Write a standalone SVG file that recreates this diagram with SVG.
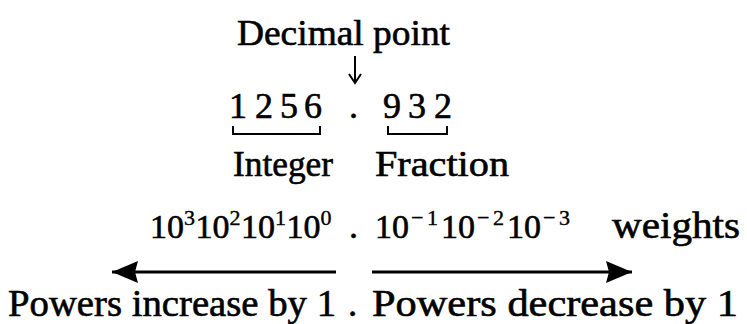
<svg xmlns="http://www.w3.org/2000/svg" width="747" height="324" viewBox="0 0 747 324">
<defs>
<style>
.t{font-size:36px}
.b{font-size:37px}
.d{font-size:36px}
.w{font-size:34px}
.s{font-size:22px}
.ln{stroke:#000;stroke-width:3;fill:none}
.br{stroke:#000;stroke-width:2;fill:none}
</style>
<marker id="ah" viewBox="0 0 26 22" refX="26" refY="11" markerWidth="26" markerHeight="22" markerUnits="userSpaceOnUse" orient="auto">
<path d="M0,0 L26,11 L0,22 L3,11 z" fill="#000"/>
</marker>
</defs>
<rect width="747" height="324" fill="#fff"/>
<g id="decimal-point-label">
<text font-family="Liberation Serif" stroke="#000" stroke-width="0.6" class="t" x="237" y="45" textLength="213" lengthAdjust="spacingAndGlyphs">Decimal point</text>
</g>
<g id="number">
<text font-family="Liberation Serif" stroke="#000" stroke-width="0.6" class="d" x="229 255 280 304" y="118">1256</text>
<text font-family="Liberation Serif" stroke="#000" stroke-width="0.6" class="d" x="349" y="118">.</text>
<text font-family="Liberation Serif" stroke="#000" stroke-width="0.6" class="d" x="383 408 434" y="118">932</text>
</g>
<g id="integer">
<text font-family="Liberation Serif" stroke="#000" stroke-width="0.6" class="t" x="233" y="176" textLength="100" lengthAdjust="spacingAndGlyphs">Integer</text>
</g>
<g id="fraction">
<text font-family="Liberation Serif" stroke="#000" stroke-width="0.6" class="t" x="375" y="176" textLength="134" lengthAdjust="spacingAndGlyphs">Fraction</text>
</g>
<g id="weights">
<text font-family="Liberation Serif" stroke="#000" stroke-width="0.6" class="w" y="238"><tspan x="150">10</tspan><tspan x="195.5">10</tspan><tspan x="241">10</tspan><tspan x="286.5">10</tspan></text>
<text font-family="Liberation Serif" stroke="#000" stroke-width="0.4" class="s" y="225"><tspan x="184">3</tspan><tspan x="229.5">2</tspan><tspan x="275">1</tspan><tspan x="320.5">0</tspan></text>
<text font-family="Liberation Serif" stroke="#000" stroke-width="0.6" class="d" x="349" y="238">.</text>
<text font-family="Liberation Serif" stroke="#000" stroke-width="0.6" class="w" y="238"><tspan x="375">10</tspan><tspan x="441">10</tspan><tspan x="507">10</tspan></text>
<text font-family="Liberation Serif" stroke="#000" stroke-width="0.4" class="s" y="225"><tspan x="411">−</tspan><tspan x="427">1</tspan><tspan x="477">−</tspan><tspan x="493">2</tspan><tspan x="543">−</tspan><tspan x="559">3</tspan></text>
<text font-family="Liberation Serif" stroke="#000" stroke-width="0.6" class="b" x="612" y="238" textLength="128" lengthAdjust="spacingAndGlyphs">weights</text>
</g>
<g id="bottom-labels">
<text font-family="Liberation Serif" stroke="#000" stroke-width="0.6" class="b" x="8" y="316" textLength="328" lengthAdjust="spacingAndGlyphs">Powers increase by 1</text>
<text font-family="Liberation Serif" stroke="#000" stroke-width="0.6" class="b" x="348" y="316">.</text>
<text font-family="Liberation Serif" stroke="#000" stroke-width="0.6" class="b" x="372" y="316" textLength="366" lengthAdjust="spacingAndGlyphs">Powers decrease by 1</text>
</g>
<g id="connectors">
<line class="ln" x1="355" y1="56" x2="355" y2="82" style="stroke-width:2"/>
<path d="M349,74 L355,83 L361,74" class="ln" style="stroke-width:2"/>
<path class="br" d="M233,126 V134 H320 V126"/>
<path class="br" d="M388,126 V134 H447 V126"/>
<line class="ln" x1="336" y1="272" x2="112" y2="272" marker-end="url(#ah)"/>
<line class="ln" x1="372" y1="272" x2="632" y2="272" marker-end="url(#ah)"/>
</g>
</svg>
